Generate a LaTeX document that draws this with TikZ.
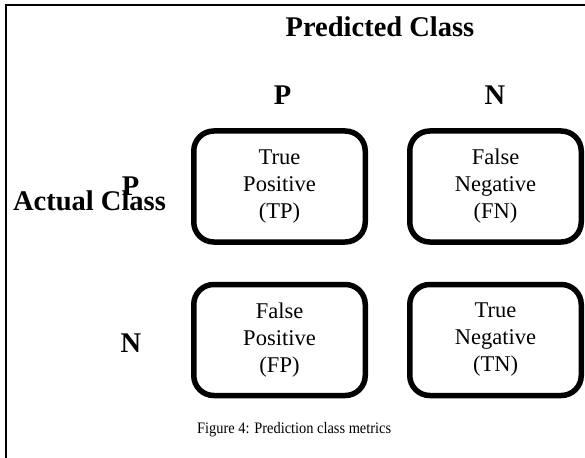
\documentclass[tikz,border=0pt]{standalone}
\usepackage{fontspec}
\setmainfont{Liberation Serif}
\begin{document}
\begin{tikzpicture}[x=1pt,y=-1pt,
  cell/.style={draw=black, line width=5.5pt, rounded corners=20pt,
    minimum width=171.5pt, minimum height=111pt, align=center,
    font=\fontsize{22.5}{27}\selectfont, inner sep=0pt},
  head/.style={font=\fontsize{28.5}{32}\selectfont\bfseries, anchor=base, inner sep=0pt},
  frameline/.style={line width=1.5pt, line cap=rect}]
\useasboundingbox (0,0) rectangle (585,457);
\coordinate (ftl) at (6,5);
\coordinate (ftr) at (586,5);
\coordinate (fbl) at (6,458);
\draw[frameline] (ftr) -- (ftl) -- (fbl);
\node[head] (pc) at (380,37) {Predicted Class};
\node[head] (cp) at (282.5,105) {P};
\node[head] (cn) at (495,105) {N};
\node[head] (rp) at (130.5,195) {P};
\node[head] (ac) at (89.5,210) {Actual Class};
\node[head] (rn) at (131,352) {N};
\node[cell] (tp) at (279.5,186.5) {True\\Positive\\(TP)};
\node[cell] (fn) at (495.5,186.5) {False\\Negative\\(FN)};
\node[cell] (fp) at (279.5,340) {False\\Positive\\(FP)};
\node[cell] (tn) at (495.5,340) {True\\Negative\\(TN)};
\node[anchor=base west, inner sep=0pt, font=\fontsize{16}{18}\selectfont] (cap) at (197,433)
  {\scalebox{0.9}[1]{Figure 4: Prediction class metrics}};
\end{tikzpicture}
\end{document}
